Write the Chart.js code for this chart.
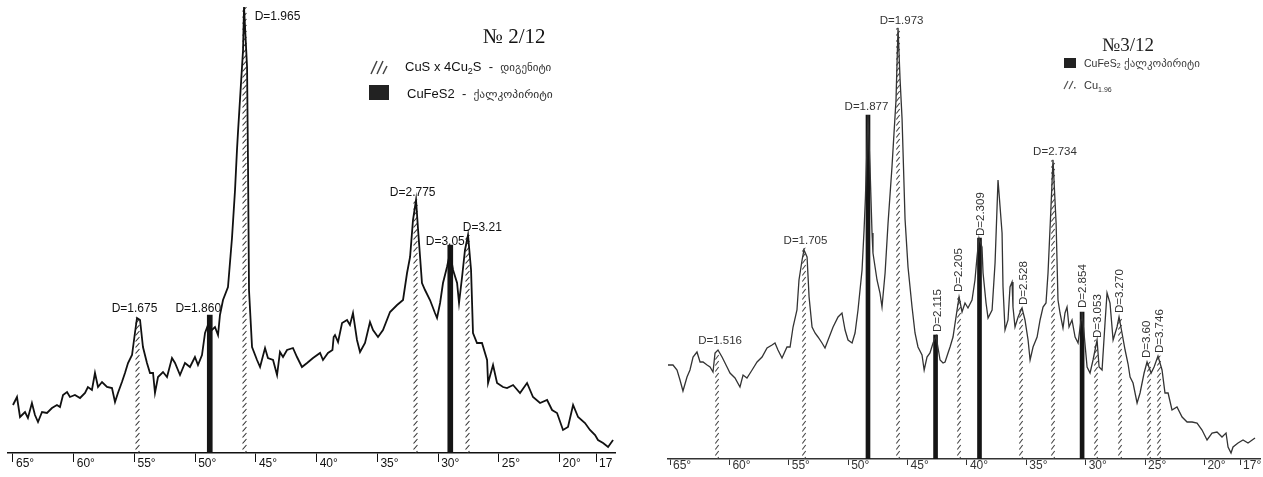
<!DOCTYPE html>
<html>
<head>
<meta charset="utf-8">
<script src="https://cdn.jsdelivr.net/npm/chart.js@4.4.1/dist/chart.umd.min.js"></script>
<style>
  html, body { margin: 0; padding: 0; background: #fff; }
  #left { position: absolute; left: 0; top: 0; }
  #right { position: absolute; left: 632px; top: 0; }
</style>
</head>
<body>
<canvas id="left" width="631" height="477"></canvas>
<canvas id="right" width="631" height="477"></canvas>
<script>
// ---- sample No 2/12 : 2-theta (deg) and intensity ----
var angles212 = [65.00,64.67,64.42,64.01,63.77,63.44,63.19,62.94,62.61,62.20,
  61.79,61.38,61.13,60.88,60.55,60.31,59.90,59.48,59.07,58.83,
  58.50,58.25,58.00,57.67,57.26,56.85,56.60,56.36,56.03,55.78,
  55.53,55.20,54.96,54.79,54.54,54.30,53.97,53.72,53.47,53.31,
  53.06,52.65,52.32,51.91,51.66,51.25,50.84,50.43,50.02,49.77,
  49.44,49.19,48.95,48.62,48.37,48.12,47.96,47.71,47.30,46.97,
  46.72,46.56,46.48,46.06,45.98,45.73,45.65,45.57,45.32,44.91,
  44.66,44.25,44.01,43.59,43.26,43.02,42.77,42.44,41.95,41.62,
  41.21,40.79,40.30,39.72,39.48,39.07,38.70,38.60,38.49,38.24,
  37.91,37.50,37.26,37.01,36.68,36.43,36.02,35.61,35.36,34.95,
  34.54,33.96,33.38,32.89,32.56,32.31,32.07,31.82,31.65,31.33,
  31.08,30.67,30.26,30.09,29.84,29.60,29.27,29.02,28.77,28.44,
  28.28,28.03,27.79,27.54,27.29,27.13,26.80,26.39,25.97,25.89,
  25.48,25.15,24.66,24.33,23.83,23.26,22.68,22.19,21.61,21.03,
  20.62,20.21,19.72,19.31,18.89,18.48,17.91,17.50,17.08,16.84,
  16.42,16.01,15.60];
var counts212 = [48,56,36,41,35,50,38,31,41,40,
  45,48,46,58,61,56,58,55,60,66,
  63,80,66,71,66,65,51,60,71,80,
  90,98,120,135,133,106,90,80,80,60,
  76,81,76,95,90,78,90,86,96,88,
  98,120,128,123,126,118,138,153,166,215,
  263,303,320,403,446,386,286,163,106,93,
  86,105,95,93,78,101,96,103,105,96,
  86,90,95,100,93,100,103,116,118,111,
  130,133,128,140,113,101,110,131,123,116,
  123,141,148,153,180,196,233,253,223,170,
  163,153,140,135,150,170,186,200,183,170,
  150,176,203,218,183,120,110,110,93,70,
  88,70,66,65,68,60,70,56,50,53,
  43,40,23,26,48,36,30,23,18,13,
  10,6,13];
// marked reflections: d-spacing, angle, height, phase (h = hatched, s = solid)
var peakD212 = ['1.675','1.860','1.965','2.775','3.05','3.21'];
var peakAngle212 = [54.79, 48.80, 45.98, 31.85, 29.00, 27.60];
var peakHeight212 = [135, 138, 446, 253, 208, 218];
var peakPhase212 = ['h','s','h','h','s','h'];

// ---- sample No 3/12 ----
var angles312 = [65.17,64.75,64.41,64.16,63.91,63.57,63.32,63.06,62.73,62.47,
  62.22,61.88,61.63,61.38,61.21,60.96,60.62,60.20,59.95,59.53,
  59.11,58.85,58.52,58.09,57.67,57.25,56.83,56.41,56.16,55.91,
  55.57,55.15,54.89,54.64,54.31,54.14,53.88,53.72,53.46,53.29,
  53.04,52.79,52.54,52.20,51.95,51.69,51.27,50.85,50.52,50.26,
  50.01,49.67,49.42,49.17,48.83,48.66,48.55,48.33,48.16,47.99,
  47.91,47.57,47.32,47.15,46.89,46.64,46.31,45.97,45.80,45.63,
  45.46,45.21,44.96,44.62,44.37,44.12,43.78,43.60,43.36,43.11,
  42.85,42.60,42.26,42.01,41.84,41.59,41.42,41.17,40.83,40.66,
  40.41,40.16,39.91,39.57,39.32,39.15,38.98,38.73,38.64,38.39,
  38.22,37.88,37.63,37.38,37.04,36.96,36.79,36.54,36.37,36.20,
  36.12,35.95,35.69,35.36,35.11,34.85,34.68,34.43,34.09,33.84,
  33.59,33.34,33.17,32.92,32.75,32.49,32.33,32.16,31.91,31.74,
  31.57,31.40,31.15,30.89,30.64,30.39,30.31,30.14,29.88,29.63,
  29.38,29.04,28.87,28.62,28.37,28.20,27.95,27.69,27.36,27.19,
  26.94,26.68,26.43,26.26,26.01,25.67,25.42,25.08,24.83,24.49,
  24.24,23.91,23.57,23.32,23.06,22.73,22.31,21.88,21.46,21.04,
  20.62,20.20,19.78,19.36,18.94,18.52,18.18,18.01,17.76,17.59,
  17.17,16.75,16.33,15.74];
var counts312 = [94,94,89,79,68,82,89,102,107,97,
  97,94,92,87,106,109,102,92,86,81,
  72,84,81,89,97,102,111,114,116,109,
  101,112,112,132,149,179,199,209,202,162,
  132,126,122,116,111,119,132,142,146,129,
  119,116,126,149,189,229,260,344,292,226,
  206,179,166,152,186,236,292,359,431,380,
  340,240,192,152,126,112,104,89,102,106,
  116,123,99,96,97,106,112,122,149,162,
  147,156,151,159,179,202,221,212,186,156,
  141,149,196,279,226,172,129,139,172,177,
  152,132,142,151,139,119,99,112,122,139,
  152,156,186,252,299,236,159,146,131,146,
  152,132,139,122,116,139,147,126,92,86,
  99,119,92,89,136,166,156,119,132,142,
  126,109,95,82,76,56,66,86,97,86,
  92,103,89,66,66,49,52,42,37,37,
  36,29,19,26,27,22,26,12,6,12,
  16,19,16,21];
var peakD312 = ['1.516','1.705','1.877','1.973','2.115','2.205','2.309','2.528','2.734','2.854','3.053','3.270','3.60','3.746'];
var peakAngle312 = [61.04, 53.72, 48.33, 45.80, 42.64, 40.66, 38.94, 35.44, 32.75, 30.30, 29.17, 27.10, 24.70, 23.82];
var peakHeight312 = [105, 211, 344, 431, 124, 162, 221, 151, 299, 147, 119, 141, 97, 103];
var peakPhase312 = ['h','h','s','h','s','h','s','h','h','s','h','h','h','h'];

var tickValues = [65, 60, 55, 50, 45, 40, 35, 30, 25, 20, 17];

// diagonal dash fill, lined up with each bar
function hatch(chart, angle, w, color) {
  var c = document.createElement('canvas');
  c.width = w; c.height = 6;
  var g = c.getContext('2d');
  g.strokeStyle = color;
  g.lineWidth = 1.1;
  g.beginPath();
  g.moveTo(w * 0.22, 5.5);
  g.lineTo(w * 0.78, 1.0);
  g.stroke();
  var p = chart.ctx.createPattern(c, 'repeat');
  var left = Math.round(chart.scales.x.getPixelForValue(angle) - w / 2);
  p.setTransform(new DOMMatrix([1, 0, 0, 1, left, 0]));
  return p;
}

function peakLabels(d, angle, height, place, font, color) {
  return {
    id: 'peakLabels',
    afterDatasetsDraw: function (chart) {
      var ctx = chart.ctx, x = chart.scales.x, y = chart.scales.y;
      ctx.save();
      ctx.font = font;
      ctx.fillStyle = color;
      ctx.textBaseline = 'middle';
      for (var i = 0; i < d.length; i++) {
        var px = x.getPixelForValue(angle[i]);
        var py = y.getPixelForValue(height[i]);
        var pl = place[i];
        if (pl[2]) {
          ctx.save();
          ctx.translate(px + pl[0], py + pl[1]);
          ctx.rotate(-Math.PI / 2);
          ctx.textAlign = 'left';
          ctx.fillText('D=' + d[i], 0, 0);
          ctx.restore();
        } else {
          ctx.textAlign = 'center';
          ctx.fillText('D=' + d[i], px + pl[0], py + pl[1]);
        }
      }
      ctx.restore();
    }
  };
}

// chained text pieces: [text, font, color, dy]
function runText(ctx, x, y, parts) {
  parts.forEach(function (p) {
    ctx.font = p[1];
    ctx.fillStyle = p[2];
    ctx.fillText(p[0], x, y + (p[3] || 0));
    x += ctx.measureText(p[0]).width;
  });
}

var legend212 = {
  id: 'legend212',
  afterDraw: function (chart) {
    var ctx = chart.ctx;
    ctx.save();
    ctx.textBaseline = 'alphabetic';
    ctx.font = '21px "Liberation Serif"';
    ctx.fillStyle = '#111';
    ctx.fillText('№ 2/12', 483, 43);
    ctx.strokeStyle = '#444';
    ctx.lineWidth = 1.5;
    ctx.beginPath();
    ctx.moveTo(371, 74); ctx.lineTo(377, 61);
    ctx.moveTo(377, 74); ctx.lineTo(383, 61);
    ctx.moveTo(383, 74); ctx.lineTo(387, 66);
    ctx.stroke();
    var sans = '13px "Liberation Sans"';
    runText(ctx, 405, 71, [
      ['CuS x 4Cu', sans, '#111'],
      ['2', '9px "Liberation Sans"', '#111', 3],
      ['S  -  ', sans, '#111'],
      ['დიგენიტი', '11px "DejaVu Sans"', '#333']
    ]);
    ctx.fillStyle = '#222';
    ctx.fillRect(369, 85, 20, 15);
    runText(ctx, 407, 98, [
      ['CuFeS2  -  ', sans, '#111'],
      ['ქალკოპირიტი', '11.5px "DejaVu Sans"', '#333']
    ]);
    ctx.restore();
  }
};

var legend312 = {
  id: 'legend312',
  afterDraw: function (chart) {
    var ctx = chart.ctx;
    ctx.save();
    ctx.textBaseline = 'alphabetic';
    ctx.font = '19px "Liberation Serif"';
    ctx.fillStyle = '#222';
    ctx.fillText('№3/12', 470, 51);
    ctx.fillStyle = '#222';
    ctx.fillRect(432, 58, 12, 10);
    runText(ctx, 452, 67, [
      ['CuFeS', '10.5px "Liberation Sans"', '#333'],
      ['2', '7px "Liberation Sans"', '#333', 1],
      [' ქალკოპირიტი', '11px "DejaVu Sans"', '#444']
    ]);
    ctx.strokeStyle = '#555';
    ctx.lineWidth = 1.2;
    ctx.beginPath();
    ctx.moveTo(432, 89); ctx.lineTo(436, 81);
    ctx.moveTo(437, 89); ctx.lineTo(441, 81);
    ctx.stroke();
    ctx.fillStyle = '#555';
    ctx.fillRect(442, 87, 1.5, 1.5);
    runText(ctx, 452, 89, [
      ['Cu', '11px "Liberation Sans"', '#333'],
      ['1.96', '7px "Liberation Sans"', '#333', 3]
    ]);
    ctx.restore();
  }
};

function makeChart(id, o) {
  var hatched = [], solid = [];
  o.peakAngle.forEach(function (a, i) {
    (o.peakPhase[i] === 'h' ? hatched : solid).push({ x: a, y: o.peakHeight[i] });
  });
  var line = o.angles.map(function (a, i) { return { x: a, y: o.counts[i] }; });
  return new Chart(document.getElementById(id).getContext('2d'), {
    type: 'line',
    data: {
      datasets: [
        {
          type: 'line', data: line, order: 0,
          borderColor: o.lineColor, borderWidth: o.lineWidth,
          pointRadius: 0, tension: 0, fill: false
        },
        {
          type: 'bar', data: hatched, order: 1, grouped: false,
          barThickness: o.hatchW, borderWidth: 0,
          backgroundColor: function (c) {
            return c.raw ? hatch(c.chart, c.raw.x, o.hatchW, o.hatchColor) : '#888';
          }
        },
        {
          type: 'bar', data: solid, order: 2, grouped: false,
          barThickness: o.solidW, borderWidth: 0, backgroundColor: '#151515'
        }
      ]
    },
    options: {
      responsive: false,
      animation: false,
      devicePixelRatio: 1,
      layout: { padding: { left: o.padL, right: o.padR, top: 0, bottom: 0 } },
      plugins: { legend: { display: false }, tooltip: { enabled: false } },
      scales: {
        x: {
          type: 'linear', reverse: true, offset: false,
          min: o.xMin, max: o.xMax,
          afterBuildTicks: function (s) {
            s.ticks = tickValues.map(function (v) { return { value: v }; });
          },
          afterFit: function (s) {
            s.height = o.axisH;
            s.paddingLeft = 0;
            s.paddingRight = 0;
          },
          grid: {
            display: true, offset: false, drawOnChartArea: false, drawTicks: true,
            tickLength: o.tickLen, color: o.axisColor, lineWidth: 1
          },
          border: { display: true, color: o.axisColor, width: 1.5 },
          ticks: {
            align: 'start', labelOffset: 3, padding: o.tickPad,
            autoSkip: false, maxRotation: 0,
            font: { family: '"Liberation Sans"', size: 12 },
            color: o.axisColor,
            callback: o.tickText
          }
        },
        y: { display: false, min: 0, max: o.yMax }
      }
    },
    plugins: o.plugins
  });
}

makeChart('left', {
  angles: angles212, counts: counts212,
  peakAngle: peakAngle212, peakHeight: peakHeight212, peakPhase: peakPhase212,
  lineColor: '#111', lineWidth: 1.8,
  hatchW: 7, solidW: 5, hatchColor: '#333',
  padL: 8, padR: 16, xMin: 15.44, xMax: 65.41, yMax: 453,
  axisH: 24, tickLen: 9, tickPad: -6, axisColor: '#111',
  tickText: function (v) { return v === 17 ? '17' : v + '°'; },
  plugins: [
    peakLabels(peakD212, peakAngle212, peakHeight212,
      [[-2.5, -9], [-11.5, -6], [33.5, 10], [-3, -7], [-5, -3], [15, -7]],
      '12px "Liberation Sans"', '#111'),
    legend212
  ]
});

makeChart('right', {
  angles: angles312, counts: counts312,
  peakAngle: peakAngle312, peakHeight: peakHeight312, peakPhase: peakPhase312,
  lineColor: '#333', lineWidth: 1.3,
  hatchW: 6, solidW: 4, hatchColor: '#444',
  padL: 36, padR: 3, xMin: 15.32, xMax: 65.17, yMax: 459,
  axisH: 18, tickLen: 6, tickPad: -7, axisColor: '#333',
  tickText: function (v) { return v + '°'; },
  plugins: [
    peakLabels(peakD312, peakAngle312, peakHeight312,
      [[3, -13], [1.5, -7], [-1.5, -8], [3.5, -7], [2.5, -3, 1], [0, -5, 1], [1.5, -2, 1],
       [3, -3, 1], [2, -8], [1, -4, 1], [2, -2, 1], [0, -5, 1], [-1.5, -4, 1], [1, -3, 1]],
      '11.5px "Liberation Sans"', '#333'),
    legend312
  ]
});
</script>
</body>
</html>
